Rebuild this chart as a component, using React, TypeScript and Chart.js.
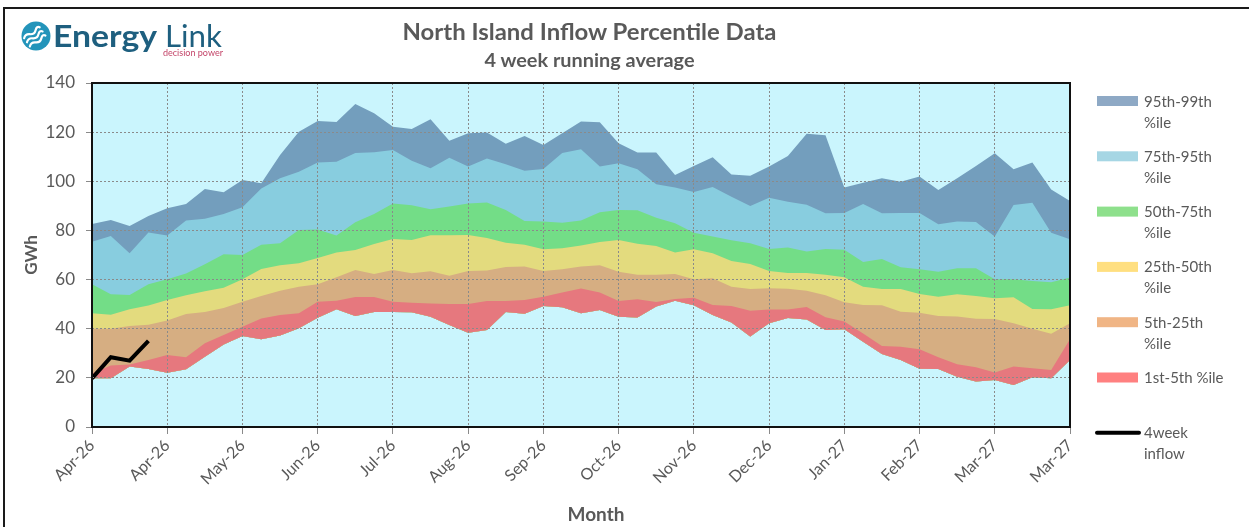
import React, { useEffect, useRef } from 'react';
import { Chart, registerables } from 'chart.js';

Chart.register(...registerables);

// ---------- data ----------
const xTickLabels = ['Apr-26', 'Apr-26', 'May-26', 'Jun-26', 'Jul-26', 'Aug-26', 'Sep-26', 'Oct-26', 'Nov-26', 'Dec-26', 'Jan-27', 'Feb-27', 'Mar-27', 'Mar-27'];

const p1 = [19.8, 19.8, 24.6, 23.6, 22.1, 23.5, 28.6, 33.6, 37.0, 35.7, 37.2, 40.2, 44.5, 47.9, 45.2, 46.8, 46.8, 46.7, 44.9, 41.5, 38.4, 39.5, 46.8, 46.1, 49.2, 48.7, 46.3, 47.6, 44.9, 44.6, 49.0, 51.4, 49.5, 45.6, 42.5, 36.8, 42.2, 44.4, 43.8, 39.5, 39.8, 34.7, 29.7, 27.3, 23.7, 23.6, 20.5, 18.5, 19.1, 17.1, 20.2, 19.8, 27.3];
const p5 = [21.8, 25.0, 25.4, 27.3, 29.3, 28.4, 34.1, 37.4, 40.8, 44.2, 45.6, 46.3, 51.0, 51.4, 52.9, 52.9, 51.0, 50.6, 50.3, 50.1, 50.1, 51.3, 51.3, 51.7, 53.0, 54.7, 56.4, 54.7, 51.3, 52.0, 50.9, 52.1, 52.6, 49.7, 49.2, 47.3, 47.8, 47.8, 48.8, 44.7, 42.9, 38.1, 33.0, 32.7, 31.6, 28.4, 25.5, 24.3, 22.2, 24.6, 23.9, 23.2, 35.7];
const p25 = [40.0, 40.0, 41.1, 41.6, 43.3, 46.0, 46.8, 48.4, 51.0, 53.3, 55.5, 57.1, 58.1, 60.9, 63.9, 62.3, 63.9, 62.6, 63.4, 61.6, 63.5, 63.7, 65.1, 65.3, 63.5, 64.2, 65.3, 65.8, 63.2, 62.0, 62.0, 62.3, 60.1, 60.5, 57.1, 56.2, 56.5, 56.3, 55.5, 53.6, 50.8, 49.7, 49.5, 46.9, 46.5, 45.2, 45.0, 44.1, 44.0, 42.2, 40.0, 37.9, 42.2];
const p50 = [46.3, 45.7, 47.9, 49.4, 51.7, 53.6, 55.2, 56.7, 60.1, 64.3, 65.8, 66.6, 68.8, 71.0, 72.0, 74.5, 76.5, 76.1, 78.0, 78.0, 78.1, 76.9, 75.0, 74.2, 72.3, 72.7, 73.9, 75.3, 76.1, 74.6, 73.7, 71.0, 72.3, 70.7, 67.6, 66.3, 63.5, 62.7, 62.7, 62.0, 60.9, 57.1, 56.2, 56.2, 54.1, 53.0, 54.0, 53.3, 52.4, 52.8, 48.0, 47.9, 49.5];
const p75 = [58.1, 54.0, 53.7, 58.1, 60.1, 62.5, 66.2, 70.3, 70.0, 74.2, 74.8, 80.2, 80.4, 77.9, 83.3, 86.7, 91.0, 90.2, 88.6, 89.7, 91.0, 91.4, 88.3, 83.8, 83.6, 83.1, 84.0, 87.4, 88.3, 88.2, 85.2, 82.9, 79.1, 77.5, 76.0, 74.8, 72.4, 73.1, 71.4, 72.4, 72.1, 67.2, 68.4, 65.0, 64.2, 63.2, 64.6, 64.6, 60.1, 60.1, 59.4, 58.9, 60.8];
const p95 = [75.4, 77.7, 70.7, 79.2, 77.9, 84.0, 84.8, 86.7, 89.4, 97.1, 101.2, 103.9, 107.6, 108.0, 111.5, 111.8, 112.7, 108.4, 105.3, 109.6, 106.0, 109.3, 106.9, 104.3, 105.0, 111.5, 113.0, 106.0, 107.3, 104.9, 98.8, 97.5, 95.6, 97.7, 93.7, 89.9, 93.3, 91.7, 90.5, 87.0, 87.1, 90.8, 87.0, 87.1, 87.1, 82.5, 83.6, 83.4, 77.5, 90.3, 91.3, 79.1, 76.4];
const p99 = [82.6, 84.2, 81.8, 85.9, 89.0, 90.8, 96.9, 95.5, 100.5, 99.2, 110.7, 120.2, 124.5, 124.1, 131.5, 127.7, 122.2, 121.3, 125.2, 116.5, 119.5, 119.9, 115.3, 118.4, 114.8, 119.5, 124.3, 124.0, 115.5, 111.7, 111.7, 102.6, 106.2, 109.8, 102.8, 102.3, 106.0, 110.3, 119.3, 118.7, 97.5, 99.4, 101.2, 99.8, 101.9, 96.5, 101.2, 106.2, 111.4, 104.9, 107.6, 96.7, 92.0];
const inflow4wk = [19.8, 28.4, 27.0, 35.1];

const bandNames = ['1st-5th %ile', '5th-25th %ile', '25th-50th %ile', '50th-75th %ile', '75th-95th %ile', '95th-99th %ile'];
const lineName = '4week inflow';
const legendLines: Record<string, string[]> = {
  '95th-99th %ile': ['95th-99th', '%ile'],
  '75th-95th %ile': ['75th-95th', '%ile'],
  '50th-75th %ile': ['50th-75th', '%ile'],
  '25th-50th %ile': ['25th-50th', '%ile'],
  '5th-25th %ile': ['5th-25th', '%ile'],
  '1st-5th %ile': ['1st-5th %ile'],
  '4week inflow': ['4week', 'inflow'],
};

// ---------- styles ----------
const FONT = 'Lato, "Noto Sans", sans-serif';
const TEXT = '#595959';
const PLOT_BG = '#CAF5FD';
const bandFill = ['#E6787E', '#D6AE82', '#E3DB7E', '#73DD87', '#88CDDF', '#739EBD'];
const legendFill = ['#FF8080', '#F0B585', '#FFDF80', '#8EE08C', '#A6D6E4', '#8EA9C5'];

export default function App() {
  const ref = useRef<HTMLCanvasElement>(null);

  useEffect(() => {
    if (!ref.current) return;
    const pts = (arr: number[]) => arr.map((y, x) => ({ x, y }));
    const bands = [p5, p25, p50, p75, p95, p99];

    const plotFrame = {
      id: 'plotFrame',
      beforeDraw(chart: any) {
        const { ctx, chartArea: a } = chart;
        ctx.save();
        ctx.fillStyle = PLOT_BG;
        ctx.fillRect(a.left, a.top, a.right - a.left, a.bottom - a.top);
        ctx.restore();
      },
      afterDraw(chart: any) {
        const { ctx, chartArea: a } = chart;
        ctx.save();
        ctx.strokeStyle = '#111';
        ctx.lineWidth = 2;
        ctx.strokeRect(a.left, a.top, a.right - a.left, a.bottom - a.top);
        ctx.restore();
      },
    };

    const chart = new Chart(ref.current, {
      type: 'line',
      data: {
        datasets: [
          { label: 'p1', data: pts(p1), fill: false, borderColor: 'transparent', borderWidth: 0, pointRadius: 0 },
          ...bands.map((b, i) => ({
            label: bandNames[i],
            data: pts(b),
            fill: 0,
            backgroundColor: bandFill[i],
            borderColor: 'transparent',
            borderWidth: 0,
            pointRadius: 0,
          })),
          {
            label: lineName,
            data: pts(inflow4wk),
            fill: false,
            borderColor: '#000',
            borderWidth: 4,
            pointRadius: 0,
            order: -1,
            borderJoinStyle: 'miter',
          },
        ],
      } as any,
      options: {
        animation: false,
        responsive: false,
        events: [],
        layout: { padding: { top: 83, right: 15, left: 0, bottom: 0 } },
        elements: { line: { tension: 0 }, point: { radius: 0 } },
        plugins: { legend: { display: false }, tooltip: { enabled: false } },
        scales: {
          x: {
            type: 'linear',
            min: 0,
            max: 52,
            afterFit: (s: any) => { s.height = 100; s.paddingLeft = 0; s.paddingRight = 0; },
            ticks: {
              stepSize: 4,
              maxTicksLimit: 14,
              autoSkip: false,
              minRotation: 45,
              maxRotation: 45,
              padding: 2,
              color: TEXT,
              font: { family: FONT, size: 16 },
              callback: (v: any) => xTickLabels[Math.round(Number(v) / 4)] ?? '',
            },
            grid: { color: '#8a8a8a', z: 1, tickLength: 7, tickColor: '#8a8a8a', tickBorderDash: [] },
            border: { display: false, dash: [2, 2] },
          },
          y: {
            min: 0,
            max: 140,
            afterFit: (s: any) => { s.width = 92; s.paddingTop = 0; s.paddingBottom = 0; },
            ticks: { stepSize: 20, padding: 11, color: TEXT, font: { family: FONT, size: 17 } },
            grid: { color: '#8a8a8a', z: 1, tickLength: 6, tickColor: '#8a8a8a', tickBorderDash: [] },
            border: { display: false, dash: [2, 2] },
            title: {
              display: true,
              text: 'GWh',
              color: TEXT,
              font: { family: FONT, size: 17, weight: 'bold' },
              padding: { top: 21, bottom: 0 },
            },
          },
        },
      } as any,
      plugins: [plotFrame],
    });
    return () => chart.destroy();
  }, []);

  const legendItems = [...bandNames].reverse().map((name) => ({ name, color: legendFill[bandNames.indexOf(name)] }));
  const legendY0 = 101;
  const legendStep = 55.3;

  return (
    <div style={{ position: 'fixed', left: 0, top: 0, width: 1249, height: 527, background: '#fff', overflow: 'hidden', fontFamily: FONT }}>
      <div style={{ position: 'absolute', left: 3, top: 7, width: 1400, height: 700, borderLeft: '2px solid #1a1a1a', borderTop: '2px solid #1a1a1a' }} />
      <canvas ref={ref} width={1085} height={527} style={{ position: 'absolute', left: 0, top: 0, display: 'block' }} />
      <svg width={1249} height={527} style={{ position: 'absolute', left: 0, top: 0, pointerEvents: 'none' }}>
        {/* logo */}
        <circle cx={36} cy={36} r={14.5} fill="#2394BA" />
        <g transform="rotate(-35 36 36)" stroke="#fff" strokeWidth={2.2} fill="none" strokeLinecap="round">
          <path d="M25 31 q3.5 -3 7 0 t7 0 t5 0" />
          <path d="M25 36 q3.5 -3 7 0 t7 0 t5 0" />
          <path d="M25 41 q3.5 -3 7 0 t7 0 t5 0" />
        </g>
        <text x={53} y={47} fontFamily={FONT} fontSize={31} fontWeight={700} fill="#1E5F7F" textLength={104} lengthAdjust="spacingAndGlyphs">Energy</text>
        <text x={165} y={47} fontFamily={FONT} fontSize={31} fontWeight={400} fill="#1E5F7F" textLength={57} lengthAdjust="spacingAndGlyphs">Link</text>
        <text x={163} y={56} fontFamily={FONT} fontSize={9} fill="#C4466A" textLength={60} lengthAdjust="spacingAndGlyphs">decision power</text>

        {/* titles */}
        <text x={589.5} y={40} textAnchor="middle" fontFamily={FONT} fontSize={23} fontWeight={700} fill={TEXT} textLength={374} lengthAdjust="spacingAndGlyphs">North Island Inflow Percentile Data</text>
        <text x={589.5} y={67} textAnchor="middle" fontFamily={FONT} fontSize={18} fontWeight={700} fill={TEXT} textLength={210} lengthAdjust="spacingAndGlyphs">4 week running average</text>
        <text x={596} y={521} textAnchor="middle" fontFamily={FONT} fontSize={19} fontWeight={700} fill={TEXT}>Month</text>

        {/* legend */}
        {legendItems.map((it, i) => {
          const cy = legendY0 + i * legendStep;
          return (
            <g key={it.name}>
              <rect x={1097} y={cy - 5} width={41} height={10} fill={it.color} />
              {legendLines[it.name].map((ln, k) => (
                <text key={k} x={1144} y={cy + 5.5 + k * 21} fontFamily={FONT} fontSize={15} fill={TEXT}>{ln}</text>
              ))}
            </g>
          );
        })}
        {(() => {
          const cy = legendY0 + legendItems.length * legendStep;
          return (
            <g>
              <line x1={1097} y1={cy} x2={1139} y2={cy} stroke="#000" strokeWidth={4} strokeLinecap="round" />
              {legendLines[lineName].map((ln, k) => (
                <text key={k} x={1144} y={cy + 5.5 + k * 21} fontFamily={FONT} fontSize={15} fill={TEXT}>{ln}</text>
              ))}
            </g>
          );
        })()}
      </svg>
    </div>
  );
}
